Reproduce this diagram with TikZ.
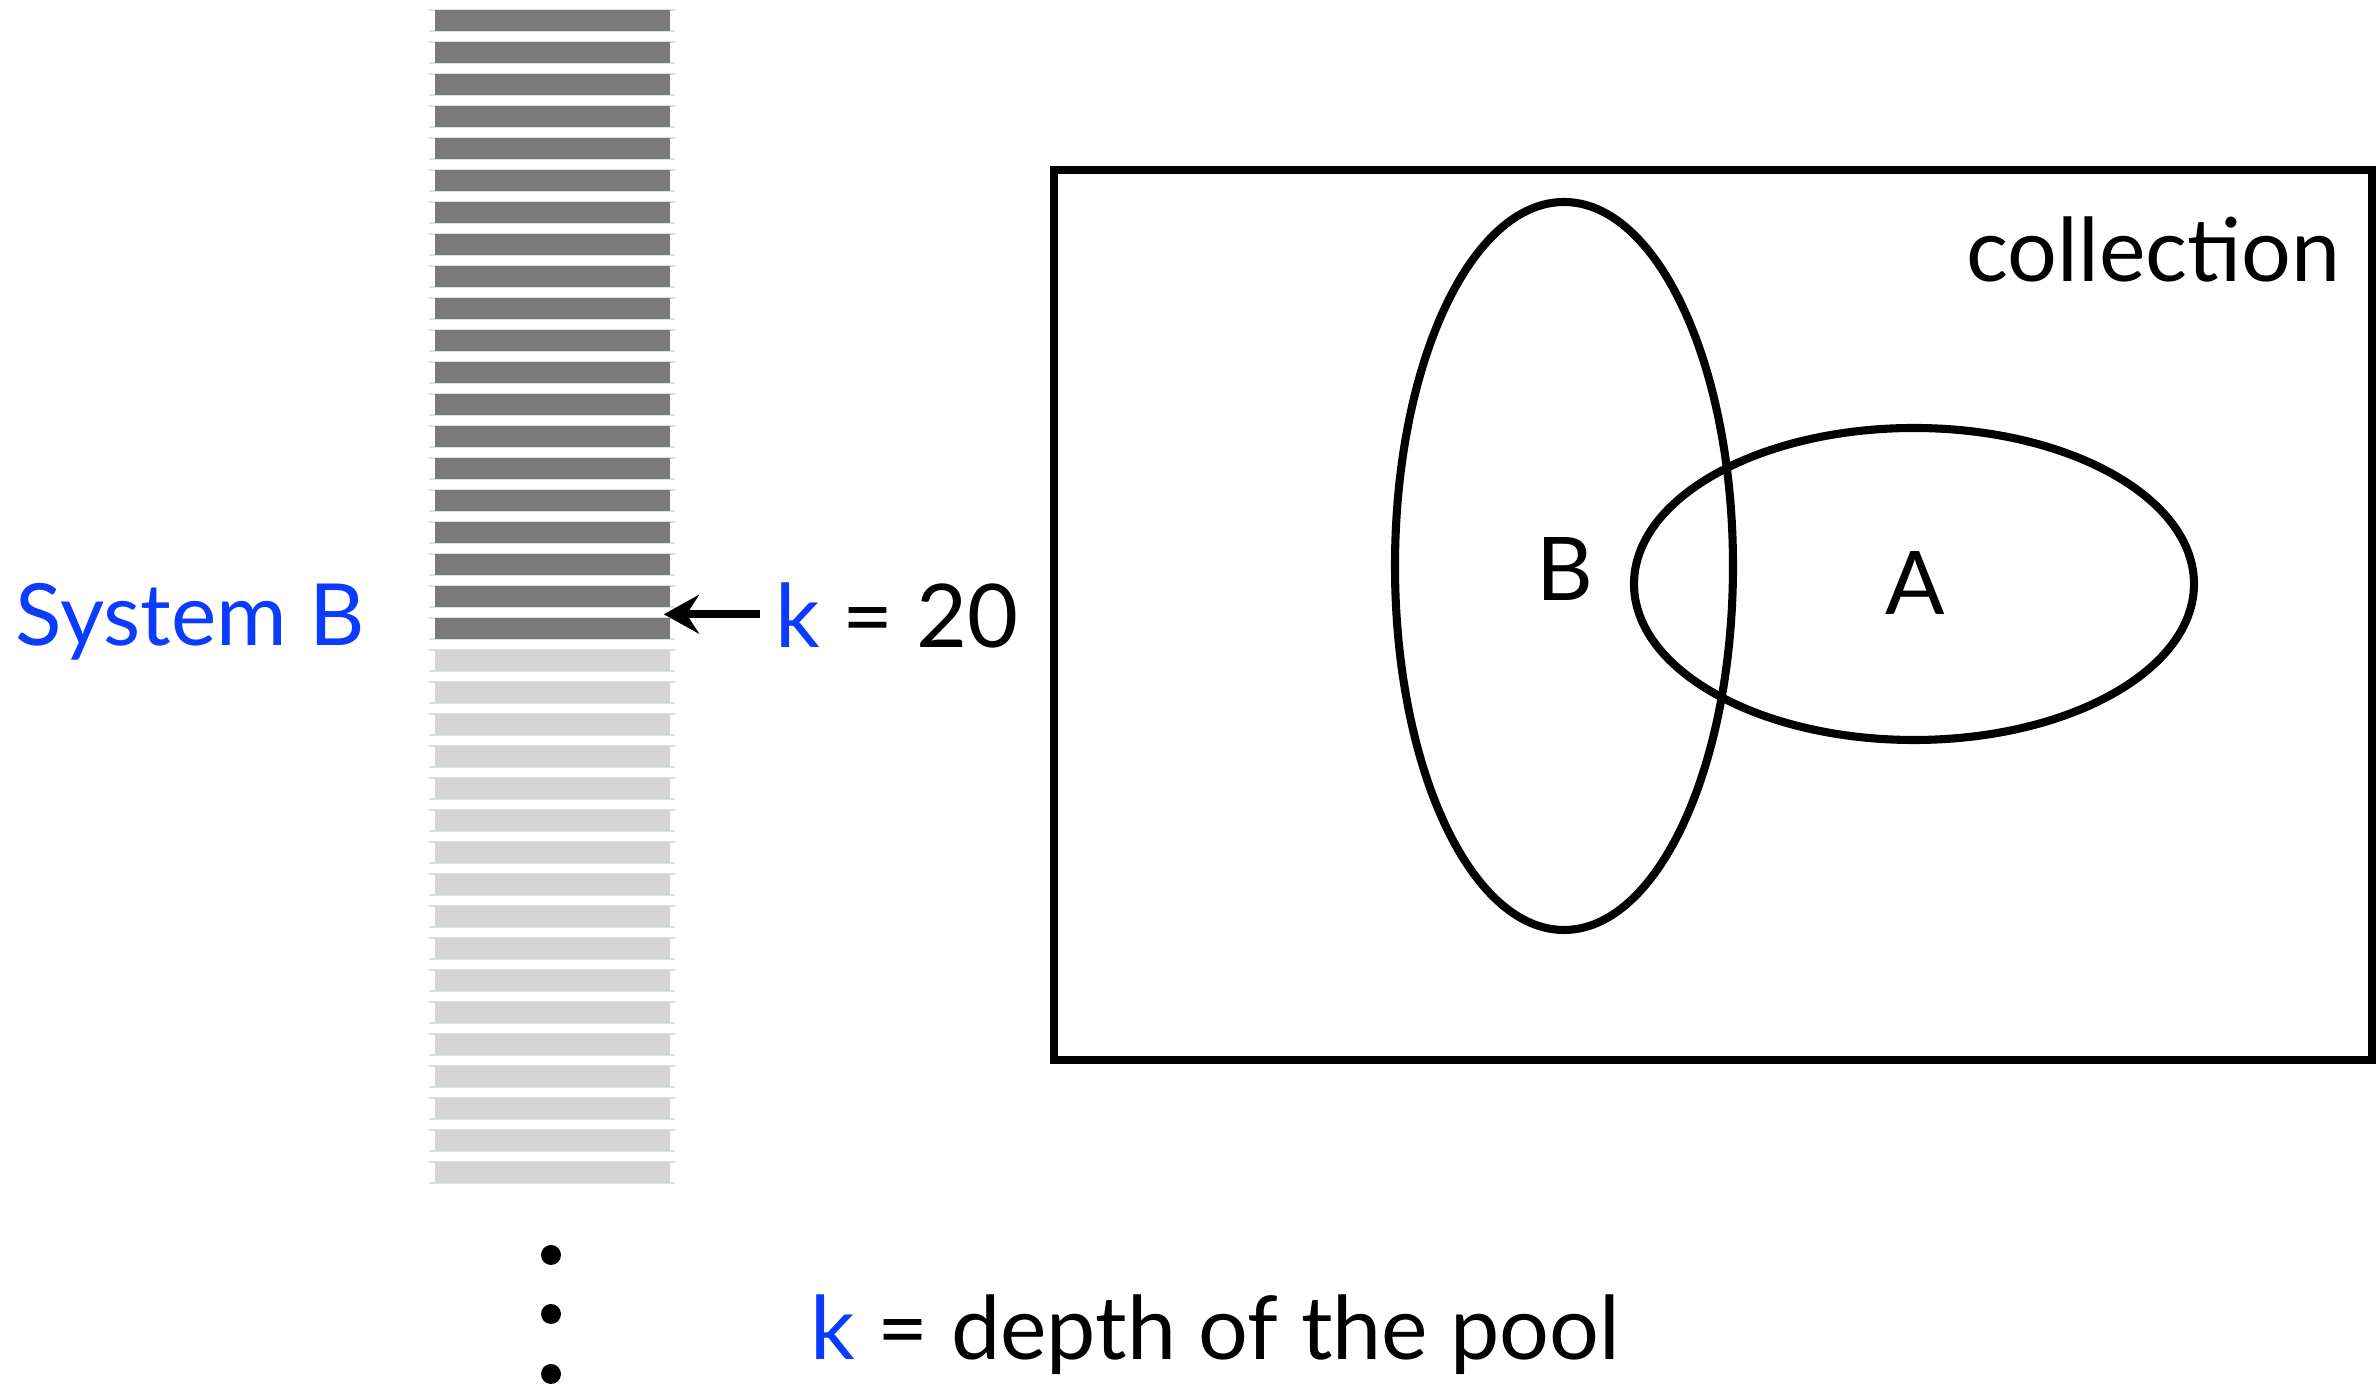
\documentclass[tikz,border=0pt]{standalone}
\usepackage{fontspec}
\setmainfont{Lato}
\usepackage{xcolor}
\usepackage{tikz}
\usetikzlibrary{positioning,arrows.meta,calc}
\definecolor{PoolDark}{HTML}{7A7A7A}
\definecolor{PoolLight}{HTML}{D5D5D5}
\definecolor{PoolEdge}{HTML}{D2E6E6}
\definecolor{SysBlue}{HTML}{0A3BFF}
\tikzset{
  poolbar/.style={rectangle, inner sep=0pt, minimum width=2.35cm, minimum height=0.21cm},
  bigtext/.style={inner sep=0pt, font=\fontsize{25}{30}\selectfont},
  setline/.style={line width=2.3pt},
  ptr/.style={-{Stealth[length=10pt, width=11pt, inset=3.5pt]}, line width=2.4pt}
}

\begin{document}
\begin{tikzpicture}[x=0.01cm, y=-0.01cm]
\useasboundingbox (0,0) rectangle (2377,1386);
% pool of ranked documents
\foreach \i in {1,...,37}{
  \pgfmathsetmacro{\ytop}{10+32*(\i-1)}
  \ifnum\i<21 \def\barcol{PoolDark}\else \def\barcol{PoolLight}\fi
  \draw[PoolEdge, line width=0.3pt] (429,\ytop) -- (675,\ytop) (429,\ytop+21) -- (675,\ytop+21);
  \node[poolbar, fill=\barcol] (bar\i) at (552.5,\ytop+10.5) {};
}
\foreach \yy in {1255,1314,1374} \fill (551,\yy) circle[radius=10];
\node[bigtext, text=SysBlue, anchor=base west, font=\fontsize{24.4}{30}\selectfont] (sysb) at (15,646) {System B};
\node[bigtext, anchor=base west] (kval) at (775,648) {\textcolor{SysBlue}{k} = 20};
\draw[ptr] ($(kval.west |- bar20.north east)+(-15,-3)$) -- ($(bar20.north east)+(-7,-3)$);
\node[bigtext, anchor=base west] (kdef) at (810,1360) {\textcolor{SysBlue}{k} = depth of the pool};
% collection with the two result sets
\node[draw, line width=2.3pt, inner sep=0pt, minimum width=13.18cm, minimum height=8.9cm] (coll) at (1713,615) {};
\node[bigtext, anchor=base west] (colltxt) at (1966,282) {collection};
\draw[setline] (1564,566) ellipse [x radius=169, y radius=364];
\draw[setline] (1914,584) ellipse [x radius=280, y radius=156];
\node[bigtext] (setb) at (1565,569) {B};
\node[bigtext] (seta) at (1915,583) {A};
\end{tikzpicture}
\end{document}
